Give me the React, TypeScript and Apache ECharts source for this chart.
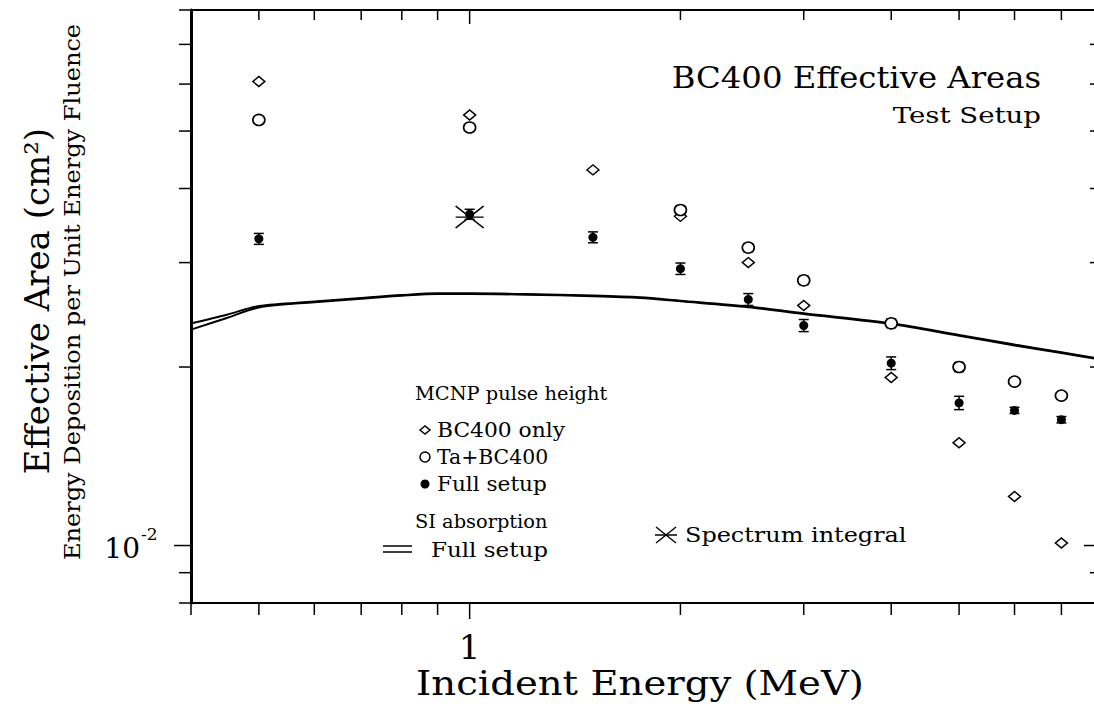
import React, { useEffect, useRef } from 'react';
import * as echarts from 'echarts';

// ---- axis ranges & ticks ----
const X_MIN = 0.4;
const X_MAX = 8;
const Y_MIN = 0.008;
const Y_MAX = 0.08;
const xTickValues = [0.4, 0.5, 0.6, 0.7, 0.8, 0.9, 1, 2, 3, 4, 5, 6, 7, 8];
const xMajorValues = [1];
const xTickLabels = ['1'];
const yTickValues = [0.008, 0.009, 0.01, 0.02, 0.03, 0.04, 0.05, 0.06, 0.07, 0.08];
const yMajorValues = [0.01];
const yTickBase = ['10'];
const yTickExp = ['-2'];

// ---- data ----
const energies = [0.5, 1, 1.5, 2, 2.5, 3, 4, 5, 6, 7];
const bc400Only = [0.0606, 0.0532, 0.043, 0.0359, 0.03, 0.0254, 0.0192, 0.0149, 0.0121, 0.0101];
const taEnergies = [0.5, 1, 2, 2.5, 3, 4, 5, 6, 7];
const taBc400 = [0.0522, 0.0507, 0.0368, 0.0318, 0.028, 0.0237, 0.02, 0.0189, 0.0179];
const taErr = [0, 0, 0.0006, 0.0005, 0.00045, 0.0004, 0.00035, 0, 0];
const fullSetup = [0.0329, 0.0362, 0.0331, 0.0293, 0.026, 0.0235, 0.0203, 0.0174, 0.0169, 0.0163];
const fullErr = [0.0007, 0.0007, 0.0007, 0.00065, 0.0006, 0.00055, 0.0005, 0.00045, 0.0002, 0.0002];
const spectrumEnergy = [1];
const spectrumIntegral = [0.0358];
const siEnergies = [0.4, 0.45, 0.5, 0.6, 0.7, 0.8, 0.9, 1.0, 1.2, 1.5, 1.75, 2, 2.5, 3, 4, 5, 6, 7, 8];
const siUpper = [0.02368, 0.0245, 0.02535, 0.02579, 0.02615, 0.02645, 0.02663, 0.02663, 0.02656, 0.0264, 0.02622, 0.02588, 0.0253, 0.02464, 0.0237, 0.02265, 0.02182, 0.02118, 0.02063];
const siLower = [0.02313, 0.0242, 0.0252, 0.02572, 0.02608, 0.02638, 0.02656, 0.02656, 0.02649, 0.02633, 0.02615, 0.02581, 0.02523, 0.02457, 0.02363, 0.02258, 0.02175, 0.02111, 0.02056];

const FONT = '"DejaVu Serif", "Liberation Serif", serif';
const BLACK = '#000';

function txt(text: string, x: number, y: number, size: number, align: string, sx = 1, extra: any = {}) {
  return {
    type: 'text',
    x,
    y,
    scaleX: sx,
    silent: true,
    ...extra,
    style: {
      text,
      fontSize: size,
      fontFamily: FONT,
      fill: BLACK,
      align,
      textAlign: align,
      verticalAlign: 'middle',
      textVerticalAlign: 'middle',
    },
  };
}

export default function App() {
  const ref = useRef<HTMLDivElement>(null);

  useEffect(() => {
    const chart = echarts.init(ref.current!, null, { renderer: 'svg' });

    const axisCommon = {
      type: 'log',
      logBase: 10,
      axisTick: { show: false },
      axisLabel: { show: false },
      splitLine: { show: false },
      minorTick: { show: false },
      minorSplitLine: { show: false },
    };

    const tickStyle = { stroke: BLACK, lineWidth: 1.5 };

    const errorBarSeries = (name: string, xs: number[], ys: number[], errs: number[]) => ({
      type: 'custom',
      name,
      silent: true,
      z: 3,
      data: xs.map((x, i) => [x, ys[i], errs[i]]),
      encode: { x: 0, y: 1 },
      renderItem: (params: any, api: any) => {
        const x = api.value(0);
        const y = api.value(1);
        const e = api.value(2);
        if (!e) return { type: 'group', children: [] };
        const lo = api.coord([x, y - e]);
        const hi = api.coord([x, y + e]);
        const cx = lo[0];
        const st = { stroke: BLACK, lineWidth: 1.5 };
        return {
          type: 'group',
          children: [
            { type: 'line', shape: { x1: cx, y1: lo[1], x2: cx, y2: hi[1] }, style: st },
            { type: 'line', shape: { x1: cx - 5, y1: lo[1], x2: cx + 5, y2: lo[1] }, style: st },
            { type: 'line', shape: { x1: cx - 5, y1: hi[1], x2: cx + 5, y2: hi[1] }, style: st },
          ],
        };
      },
    });

    const option: any = {
      animation: false,
      backgroundColor: '#fff',
      grid: { left: 191, top: 10, right: 8, bottom: 104 },
      xAxis: [
        { ...axisCommon, min: X_MIN, max: X_MAX, position: 'bottom', axisLine: { show: true, onZero: false, lineStyle: { color: BLACK, width: 2 } } },
        { ...axisCommon, min: X_MIN, max: X_MAX, position: 'top', axisLine: { show: true, onZero: false, lineStyle: { color: BLACK, width: 2 } } },
      ],
      yAxis: [
        { ...axisCommon, min: Y_MIN, max: Y_MAX, position: 'left', axisLine: { show: true, onZero: false, lineStyle: { color: BLACK, width: 3 } } },
        { ...axisCommon, min: Y_MIN, max: Y_MAX, position: 'right', axisLine: { show: true, onZero: false, lineStyle: { color: BLACK, width: 2 } } },
      ],
      series: [
        // x-axis ticks (bottom outward, top inward) + labels
        {
          type: 'custom',
          silent: true,
          z: 10,
          data: xTickValues.map((v) => [v, Y_MIN, xMajorValues.indexOf(v) >= 0 ? 1 : 0]),
          encode: { x: 0, y: 1 },
          renderItem: (params: any, api: any) => {
            const v = api.value(0);
            const major = api.value(2) === 1;
            const b = api.coord([v, Y_MIN]);
            const t = api.coord([v, Y_MAX]);
            const children: any[] = [
              { type: 'line', shape: { x1: b[0], y1: b[1], x2: b[0], y2: b[1] + (major ? 16 : 12) }, style: tickStyle },
              { type: 'line', shape: { x1: t[0], y1: t[1], x2: t[0], y2: t[1] + (major ? 14 : 10) }, style: tickStyle },
            ];
            const li = xMajorValues.indexOf(v);
            if (li >= 0) {
              children.push({
                type: 'text',
                x: b[0],
                y: b[1] + 44,
                style: { text: xTickLabels[li], fontSize: 34, fontFamily: FONT, fill: BLACK, align: 'center', verticalAlign: 'middle' },
              });
            }
            return { type: 'group', children };
          },
        },
        // y-axis ticks (left outward, right inward) + labels
        {
          type: 'custom',
          silent: true,
          z: 10,
          data: yTickValues.map((v) => [X_MIN, v, yMajorValues.indexOf(v) >= 0 ? 1 : 0]),
          encode: { x: 0, y: 1 },
          renderItem: (params: any, api: any) => {
            const v = api.value(1);
            const major = api.value(2) === 1;
            const l = api.coord([X_MIN, v]);
            const r = api.coord([X_MAX, v]);
            const children: any[] = [
              { type: 'line', shape: { x1: l[0] - (major ? 17 : 12), y1: l[1], x2: l[0], y2: l[1] }, style: tickStyle },
              { type: 'line', shape: { x1: r[0] - (major ? 18 : 12), y1: r[1], x2: r[0], y2: r[1] }, style: tickStyle },
            ];
            const li = yMajorValues.indexOf(v);
            if (li >= 0) {
              children.push({
                type: 'text',
                x: l[0] - 51,
                y: l[1] + 3,
                style: { text: yTickBase[li], fontSize: 28, fontFamily: FONT, fill: BLACK, align: 'right', verticalAlign: 'middle' },
              });
              children.push({
                type: 'text',
                x: l[0] - 50,
                y: l[1] - 12,
                style: { text: yTickExp[li], fontSize: 17, fontFamily: FONT, fill: BLACK, align: 'left', verticalAlign: 'middle' },
              });
            }
            return { type: 'group', children };
          },
        },
        // SI absorption, full setup (double curve)
        {
          type: 'line',
          name: 'SI absorption upper',
          silent: true,
          z: 2,
          showSymbol: false,
          smooth: 0.3,
          data: siEnergies.map((e, i) => [e, siUpper[i]]),
          lineStyle: { color: BLACK, width: 2 },
        },
        {
          type: 'line',
          name: 'SI absorption lower',
          silent: true,
          z: 2,
          showSymbol: false,
          smooth: 0.3,
          data: siEnergies.map((e, i) => [e, siLower[i]]),
          lineStyle: { color: BLACK, width: 2 },
        },
        errorBarSeries('Ta+BC400 err', taEnergies, taBc400, taErr),
        errorBarSeries('Full setup err', energies, fullSetup, fullErr),
        {
          type: 'scatter',
          name: 'BC400 only',
          silent: true,
          z: 5,
          symbol: 'diamond',
          symbolSize: [12, 10],
          data: energies.map((e, i) => [e, bc400Only[i]]),
          itemStyle: { color: '#fff', borderColor: BLACK, borderWidth: 1.5, opacity: 1 },
        },
        {
          type: 'scatter',
          name: 'Ta+BC400',
          silent: true,
          z: 5,
          symbol: 'circle',
          symbolSize: [12, 11],
          data: taEnergies.map((e, i) => [e, taBc400[i]]),
          itemStyle: { color: '#fff', borderColor: BLACK, borderWidth: 1.6, opacity: 1 },
        },
        {
          type: 'scatter',
          name: 'Full setup',
          silent: true,
          z: 6,
          symbol: 'circle',
          symbolSize: 9,
          data: energies.map((e, i) => [e, fullSetup[i]]),
          itemStyle: { color: BLACK, opacity: 1 },
        },
        {
          type: 'scatter',
          name: 'Spectrum integral',
          silent: true,
          z: 7,
          symbol: 'path://M0,11 L28,11 M0,0 L28,22 M0,22 L28,0',
          symbolSize: [28, 22],
          data: spectrumEnergy.map((e, i) => [e, spectrumIntegral[i]]),
          itemStyle: { color: 'none', borderColor: BLACK, borderWidth: 1.5, opacity: 1 },
        },
      ],
      graphic: [
        // title
        txt('BC400 Effective Areas', 1041, 77, 30, 'right', 1.077),
        txt('Test Setup', 1041, 115, 23, 'right', 1.2),
        // axis titles
        txt('Incident Energy (MeV)', 640, 684, 33, 'center', 1.17),
        txt('Effective Area (cm²)', 37, 301, 34, 'center', 1, { rotation: Math.PI / 2 }),
        txt('Energy Deposition per Unit Energy Fluence', 72, 292, 22, 'center', 1.094, { rotation: Math.PI / 2 }),
        // legend
        txt('MCNP pulse height', 415, 394, 19, 'left', 1.02),
        {
          type: 'polygon',
          silent: true,
          shape: { points: [[420, 430], [425, 426], [430, 430], [425, 434]] },
          style: { fill: '#fff', stroke: BLACK, lineWidth: 1.5 },
        },
        txt('BC400 only', 437, 430, 20, 'left', 1.09),
        { type: 'circle', silent: true, shape: { cx: 425, cy: 457, r: 5 }, style: { fill: '#fff', stroke: BLACK, lineWidth: 1.5 } },
        txt('Ta+BC400', 437, 457, 20, 'left', 1.02),
        { type: 'circle', silent: true, shape: { cx: 425, cy: 484, r: 4.5 }, style: { fill: BLACK } },
        txt('Full setup', 437, 484, 20, 'left', 1.08),
        txt('SI absorption', 415, 522, 19, 'left', 1.02),
        { type: 'line', silent: true, shape: { x1: 383, y1: 546, x2: 412, y2: 546 }, style: { stroke: BLACK, lineWidth: 1.5 } },
        { type: 'line', silent: true, shape: { x1: 383, y1: 552, x2: 412, y2: 552 }, style: { stroke: BLACK, lineWidth: 1.5 } },
        txt('Full setup', 431, 550, 20, 'left', 1.15),
        { type: 'line', silent: true, shape: { x1: 655, y1: 535, x2: 677, y2: 535 }, style: { stroke: BLACK, lineWidth: 1.5 } },
        { type: 'line', silent: true, shape: { x1: 656, y1: 527, x2: 676, y2: 543 }, style: { stroke: BLACK, lineWidth: 1.5 } },
        { type: 'line', silent: true, shape: { x1: 656, y1: 543, x2: 676, y2: 527 }, style: { stroke: BLACK, lineWidth: 1.5 } },
        txt('Spectrum integral', 685, 535, 21, 'left', 1.14),
      ],
    };

    chart.setOption(option);
    return () => chart.dispose();
  }, []);

  return (
    <div style={{ position: 'fixed', left: 0, top: 0, width: 1094, height: 707, overflow: 'hidden', background: '#fff' }}>
      <div ref={ref} style={{ width: 1110, height: 707 }} />
    </div>
  );
}
